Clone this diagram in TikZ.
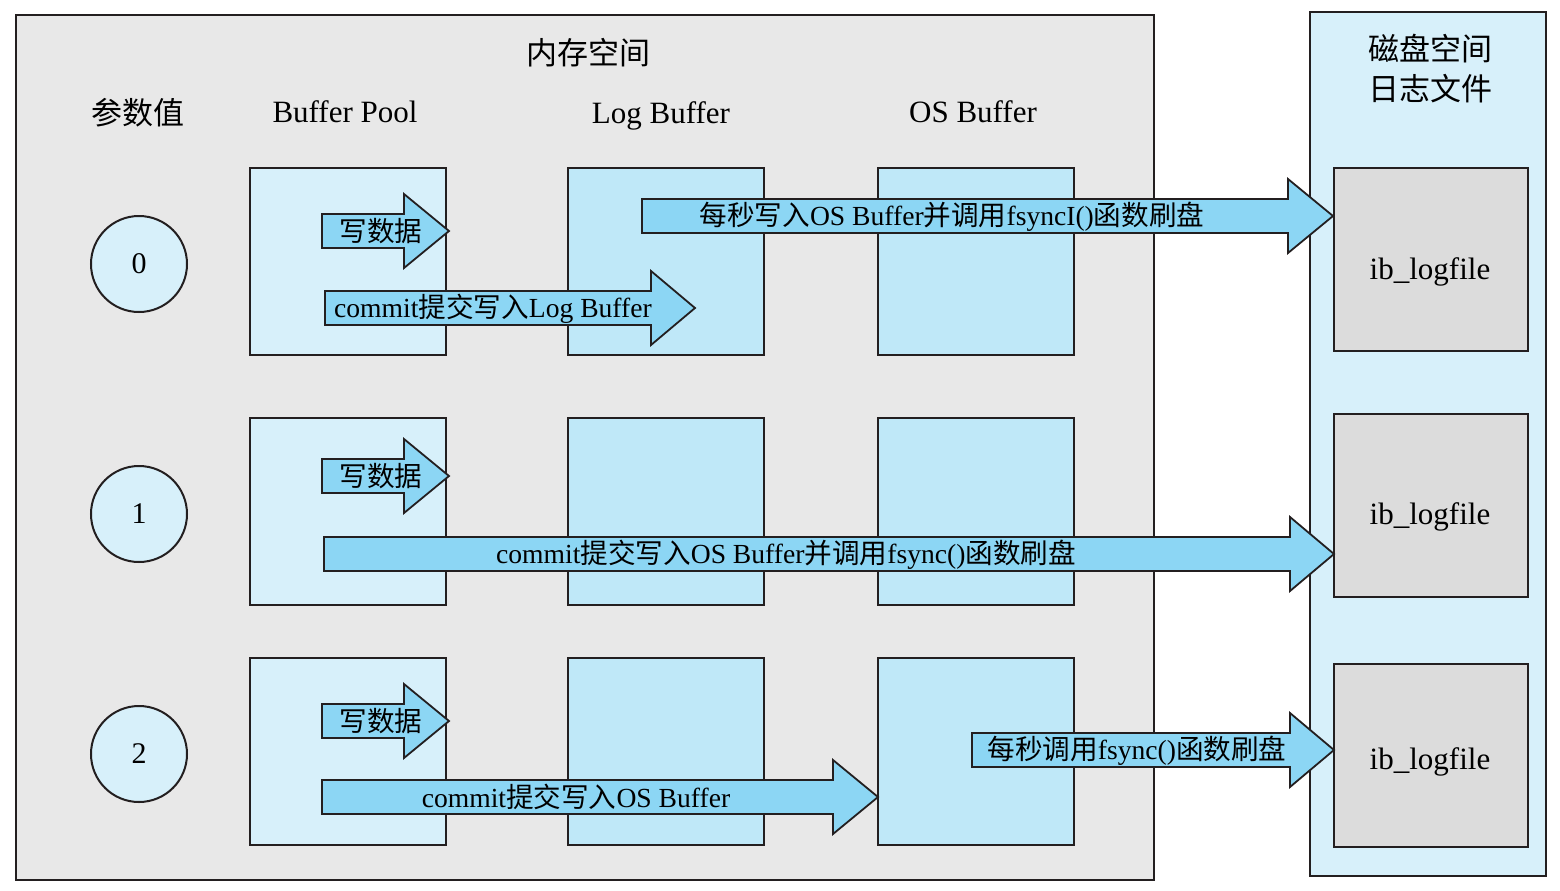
\documentclass[tikz,border=0pt]{standalone}
\usepackage{fontspec}
\setmainfont{Liberation Serif}
\newfontfamily\cjk{Noto Sans CJK SC}
\definecolor{membg}{HTML}{E8E8E8}
\definecolor{lightcy}{HTML}{D7F0FA}
\definecolor{midcy}{HTML}{BFE8F8}
\definecolor{filegray}{HTML}{DCDCDC}
\definecolor{arrowcy}{HTML}{8CD6F4}
\definecolor{edge}{HTML}{231F20}
\tikzset{
  frame/.style={draw=edge,line width=1pt},
  poolbox/.style={frame,fill=lightcy},
  bufbox/.style={frame,fill=midcy},
  filebox/.style={frame,fill=filegray},
  valcircle/.style={circle,frame,fill=lightcy,minimum size=48pt,inner sep=0pt,font=\fontsize{15}{18}\selectfont},
  hdr/.style={font=\fontsize{15.5}{18}\selectfont,inner sep=0pt},
  lbl/.style={font=\fontsize{13.8}{16}\selectfont,inner sep=0pt},
  fatarrow/.style={draw=edge,line width=0.9pt,fill=arrowcy,line join=miter}
}
% #1 start x, #2 head start x, #3 tip x, #4 centre y
\newcommand\fatarr[4]{%
  \draw[fatarrow] (#1,#4-17) -- (#2,#4-17) -- (#2,#4-37) -- (#3,#4) -- (#2,#4+37) -- (#2,#4+17) -- (#1,#4+17) -- cycle;}
\begin{document}
\begin{tikzpicture}[x=0.5pt,y=-0.5pt]
\useasboundingbox (0,0) rectangle (1560,890);
% containers
\draw[frame,fill=membg] (16,15) rectangle (1154,880);
\draw[frame,fill=lightcy] (1310,12) rectangle (1546,876);
% headings
\node[hdr] (mem) at (588,53) {\cjk 内存空间};
\node[hdr] (param) at (138,113) {\cjk 参数值};
\node[hdr] (bp) at (345,112) {Buffer Pool};
\node[hdr] (lb) at (661,115.5) {Log Buffer};
\node[hdr] (osb) at (973,112) {OS Buffer};
\node[hdr] (disk1) at (1430,49) {\cjk 磁盘空间};
\node[hdr] (disk2) at (1430,89) {\cjk 日志文件};
% value circles
\node[valcircle] (v0) at (139,264) {0};
\node[valcircle] (v1) at (139,514) {1};
\node[valcircle] (v2) at (139,754) {2};
% buffer boxes
\foreach \r/\yt/\yb in {a/168/355, b/418/605, c/658/845}{
  \draw[poolbox] (250,\yt) rectangle (446,\yb);
  \draw[bufbox] (568,\yt) rectangle (764,\yb);
  \draw[bufbox] (878,\yt) rectangle (1074,\yb);
}
% log files
\draw[filebox] (1334,168) rectangle (1528,351);
\node[hdr] (f0) at (1430,272) {ib\_logfile};
\draw[filebox] (1334,414) rectangle (1528,597);
\node[hdr] (f1) at (1430,517) {ib\_logfile};
\draw[filebox] (1334,664) rectangle (1528,847);
\node[hdr] (f2) at (1430,762) {ib\_logfile};
% row 0
\fatarr{322}{404}{449}{231}
\node[lbl] (a1) at (381,231) {\cjk 写数据};
\fatarr{325}{651}{695}{308}
\node[lbl] (a2) at (493,309) {commit{\cjk 提交写入}Log Buffer};
\fatarr{642}{1288}{1333}{216}
\node[lbl] (a3) at (952,217) {{\cjk 每秒写入}OS Buffer{\cjk 并调用}fsyncI(){\cjk 函数刷盘}};
% row 1
\fatarr{322}{404}{449}{476}
\node[lbl] (b1) at (381,476) {\cjk 写数据};
\fatarr{324}{1290}{1334}{554}
\node[lbl] (b2) at (786,555) {commit{\cjk 提交写入}OS Buffer{\cjk 并调用}fsync(){\cjk 函数刷盘}};
% row 2
\fatarr{322}{404}{449}{721}
\node[lbl] (c1) at (381,721) {\cjk 写数据};
\fatarr{322}{833}{878}{797}
\node[lbl] (c2) at (576,797) {commit{\cjk 提交写入}OS Buffer};
\fatarr{972}{1290}{1334}{750}
\node[lbl] (c3) at (1137,751) {{\cjk 每秒调用}fsync(){\cjk 函数刷盘}};
\end{tikzpicture}
\end{document}
